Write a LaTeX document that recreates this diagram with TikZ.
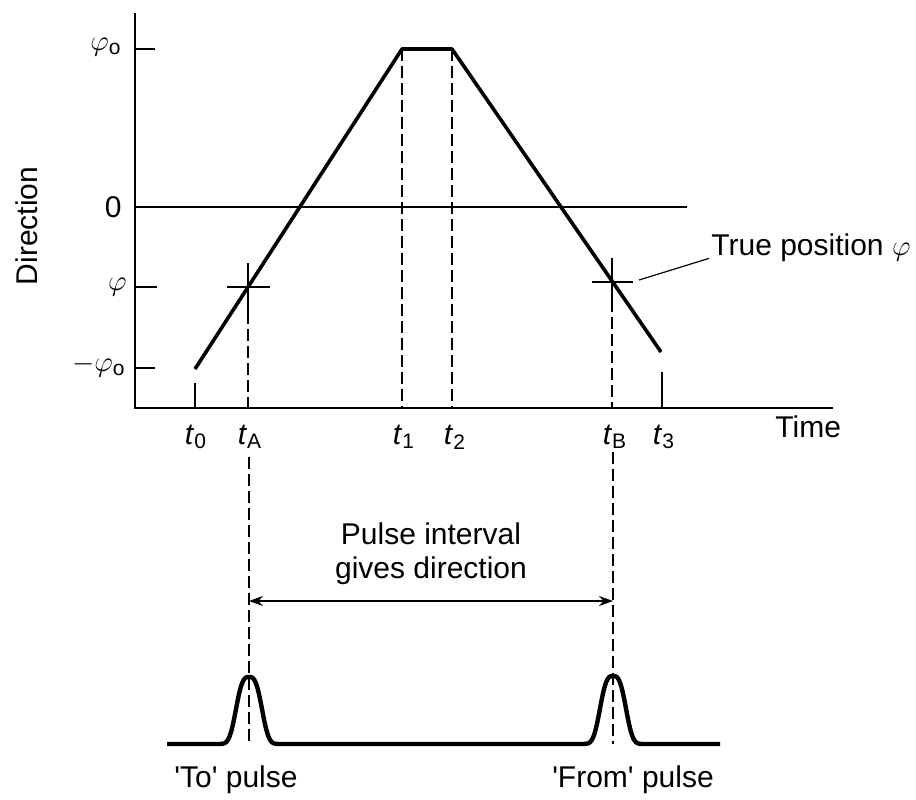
\documentclass[tikz,border=0pt]{standalone}
\usepackage{fontspec}
\setmainfont{Liberation Sans}
\usetikzlibrary{arrows.meta,calc}
\tikzset{every node/.append style={font=\fontsize{15}{17}\selectfont}}
\newcommand{\tsub}[1]{\textit{t}\textsubscript{#1}}

\begin{document}
\begin{tikzpicture}[x=0.5pt,y=-0.5pt,lab/.style={inner sep=1pt},
  trace/.style={line width=1.8pt,line join=round},
  guide/.style={line width=0.7pt,dash pattern=on 6pt off 2.5pt},
  tick/.style={line width=0.8pt},
  pulse/.style={line width=2.2pt,line join=round}]
\useasboundingbox (0,0) rectangle (916,799);
\coordinate (ytop) at (135,13); \coordinate (orig) at (135,408); \coordinate (xend) at (833,408);
\draw[line width=1.2pt] (ytop) -- (orig) -- (xend);
\coordinate (zl) at (135,207); \coordinate (zr) at (687,207); \draw[tick] (zl) -- (zr);
\draw[tick] (135,49) -- (155,49); \draw[tick] (135,287) -- (157,287); \draw[tick] (135,368) -- (155,368);
\coordinate (s0) at (195,369); \coordinate (s1) at (402,49); \coordinate (s2) at (452,49); \coordinate (s3) at (661,352);
\draw[trace] (s0) -- (s1) -- (s2) -- (s3);
\coordinate (cA) at (248,287); \coordinate (cB) at (612,282);
\draw[tick] (227,287) -- (270,287); \draw[tick] (248,263) -- (248,312);
\draw[tick] (592,282) -- (633,282); \draw[tick] (612,258) -- (612,300);
\draw[guide] (248,312) -- (248,408); \draw[guide] (612,300) -- (612,408);
\draw[guide] (s1) -- (402,408); \draw[guide] (s2) -- (452,408);
\draw[tick] (195,383) -- (195,408); \draw[tick] (662,372) -- (662,408);
\node[lab,rotate=90] (ylab) at (27,226) {Direction};
\node[lab,anchor=east] (pho) at (124,47) {$\varphi_{\mathrm{o}}$};
\node[lab,anchor=east] (zero) at (124,207) {0};
\node[lab,anchor=east] (ph) at (129,287) {$\varphi$};
\node[lab,anchor=east] (mpho) at (128,366) {$-\varphi_{\mathrm{o}}$};
\node[lab] (l0) at (196,437) {\tsub{0}}; \node[lab] (lA) at (250,437) {\tsub{A}};
\node[lab] (l1) at (404,437) {\tsub{1}}; \node[lab] (l2) at (455,437) {\tsub{2}};
\node[lab] (lB) at (615,437) {\tsub{B}}; \node[lab] (l3) at (664,437) {\tsub{3}};
\node[lab,anchor=west] (time) at (773,427) {Time};
\node[lab,anchor=west] (tp) at (709,248) {True position $\varphi$};
\coordinate (lead) at (639,280); \draw[line width=0.6pt] (lead) -- ([yshift=3pt]tp.south west);
\coordinate (pA) at (249,457); \coordinate (pB) at (613,452);
\draw[guide] (pA) -- (249,744); \draw[guide] (pB) -- (613,744);
\node[lab,align=center] (intv) at (431,554) {Pulse interval\\gives direction};
\coordinate (aA) at (249,601); \coordinate (aB) at (613,601);
\draw[tick,{Stealth[length=7pt,width=5pt]}-{Stealth[length=7pt,width=5pt]}] (aA) -- (aB);
\draw[pulse] (167,744) -- (219,744) -- plot[domain=219:279,samples=61,smooth] (\x,{744-67*exp(-(((\x-249)/15)^2)^1.5)}) -- (583,744) -- plot[domain=583:643,samples=61,smooth] (\x,{744-68*exp(-(((\x-613)/15)^2)^1.5)}) -- (720,744);
\node[lab] (to) at (236,780) {\textquotesingle To\textquotesingle\ pulse}; \node[lab] (from) at (633,780) {\textquotesingle From\textquotesingle\ pulse};
\end{tikzpicture}
\end{document}
